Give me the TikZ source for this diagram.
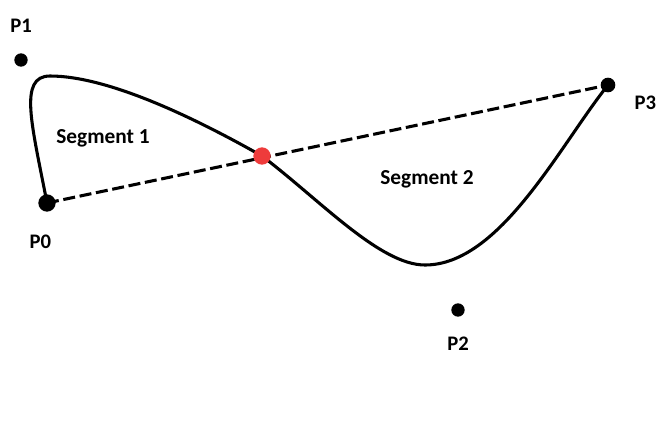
\documentclass[tikz,border=0pt]{standalone}
\usepackage{fontspec}
\setmainfont{Carlito}
\usetikzlibrary{positioning}
\definecolor{midRed}{HTML}{EE3B3B}

\begin{document}
\begin{tikzpicture}[
    x=0.75pt, y=-0.75pt,
    node distance=15pt,
    font=\bfseries,
    dot/.style={
        circle, fill=black, inner sep=0pt, minimum size=#1
    },
    ptlabel/.style={
        inner sep=0pt, font=\fontsize{15.5}{18}\selectfont\bfseries
    },
    seglabel/.style={
        inner sep=0pt, font=\fontsize{16}{18}\selectfont\bfseries
    },
    curve/.style={
        draw=black, line width=2.3pt, line cap=round
    },
    chord/.style={
        draw=black, line width=2.3pt, dash pattern=on 9pt off 3.5pt
    }
]
    \useasboundingbox (0,0) rectangle (670,422);

    % control points and the split point
    \coordinate (P0) at (47,203);
    \coordinate (P1) at (21,60);
    \coordinate (P2) at (458,310);
    \coordinate (P3) at (608,85);
    \coordinate (mid) at (262,156);
    \coordinate (top) at (50,76);
    \coordinate (low) at (425,265);

    % chord and curve
    \draw[chord] (P0) -- (P3);
    \draw[curve] (P0) .. controls (32,125) and (18,76) .. (top)
        .. controls (108,76) and (195,118) .. (mid);
    \draw[curve] (mid) .. controls (320,200) and (380,265) .. (low)
        .. controls (500,265) and (560,145) .. (P3);

    % dots
    \node[dot=10pt] (p1dot) at (P1) {};
    \node[dot=13pt] (p0dot) at (P0) {};
    \node[dot=11pt] (p3dot) at (P3) {};
    \node[dot=10pt] (p2dot) at (P2) {};
    \node[dot=13pt, fill=midRed] (middot) at (mid) {};

    % labels
    \node[ptlabel, above=of p1dot] (p1lab) {P1};
    \node[ptlabel, below=17pt of p0dot, xshift=-5pt] (p0lab) {P0};
    \node[ptlabel, right=14pt of p3dot, yshift=-13pt] (p3lab) {P3};
    \node[ptlabel, below=of p2dot] (p2lab) {P2};
    \node[seglabel] (seg1) at (103,138) {Segment 1};
    \node[seglabel] (seg2) at (427,179) {Segment 2};
\end{tikzpicture}
\end{document}
